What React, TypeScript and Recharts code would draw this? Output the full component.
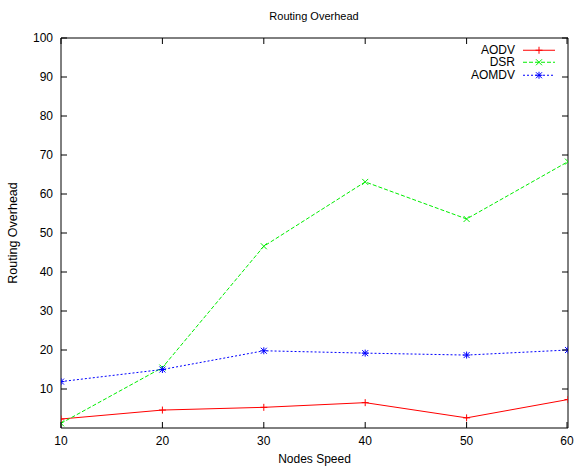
import { Line, LineChart, XAxis, YAxis } from 'recharts'

const speeds = [10, 20, 30, 40, 50, 60]
const aodv = [2.3, 4.6, 5.3, 6.5, 2.6, 7.3]
const dsr = [1.2, 15.5, 46.6, 63.1, 53.6, 68.3]
const aomdv = [11.9, 15.0, 19.8, 19.2, 18.7, 20.0]
const yTicks = [10, 20, 30, 40, 50, 60, 70, 80, 90, 100]

const data = speeds.map((s, i) => ({
  speed: s,
  AODV: aodv[i],
  DSR: dsr[i],
  AOMDV: aomdv[i],
}))

const font = '"Liberation Sans", Arial, sans-serif'

type Marker = 'plus' | 'cross' | 'star'

function markerPath(kind: Marker, cx: number, cy: number) {
  const r = 3.5
  const d = 3
  const plus = `M${cx - r},${cy}L${cx + r},${cy}M${cx},${cy - r}L${cx},${cy + r}`
  const cross = `M${cx - d},${cy - d}L${cx + d},${cy + d}M${cx - d},${cy + d}L${cx + d},${cy - d}`
  if (kind === 'plus') return plus
  if (kind === 'cross') return cross
  return plus + cross
}

const makeDot = (kind: Marker, color: string) => (props: any) => {
  const { cx, cy, index } = props
  if (cx == null || cy == null) return <g key={index} />
  return <path key={index} d={markerPath(kind, cx, cy)} stroke={color} strokeWidth={1} fill="none" />
}

const series = [
  { key: 'AODV', color: '#ff0000', dash: undefined, marker: 'plus' as Marker },
  { key: 'DSR', color: '#00ee00', dash: '4 2', marker: 'cross' as Marker },
  { key: 'AOMDV', color: '#0000ff', dash: '2 2', marker: 'star' as Marker },
]

const LeftTick = (props: any) => {
  const { x, y, payload } = props
  const ax = x + 8
  return (
    <g>
      <line x1={ax} x2={ax + 6} y1={y} y2={y} stroke="#000" />
      <text x={x} y={y} dy={4} textAnchor="end" fontSize={12} fontFamily={font} fill="#000">
        {payload.value}
      </text>
    </g>
  )
}

const RightTick = (props: any) => {
  const { x, y } = props
  return <line x1={x - 6} x2={x} y1={y} y2={y} stroke="#000" />
}

const BottomTick = (props: any) => {
  const { x, y, payload } = props
  const ay = y - 8
  return (
    <g>
      <line x1={x} x2={x} y1={ay} y2={ay - 6} stroke="#000" />
      <text x={x} y={y} dy={8.5} textAnchor="middle" fontSize={12} fontFamily={font} fill="#000">
        {payload.value}
      </text>
    </g>
  )
}

const TopTick = (props: any) => {
  const { x, y } = props
  return <line x1={x} x2={x} y1={y} y2={y + 6} stroke="#000" />
}

const LegendBox = () => (
  <div
    style={{
      position: 'absolute',
      left: 432,
      top: 43.5,
      fontFamily: font,
      fontSize: 12,
      color: '#000',
    }}
  >
    {series.map((s) => (
      <div key={s.key} style={{ display: 'flex', alignItems: 'center', height: 12.5 }}>
        <span style={{ width: 83, textAlign: 'right', lineHeight: '12.5px' }}>{s.key}</span>
        <svg width={40} height={12.5} style={{ marginLeft: 8 }}>
          <line x1={0} x2={32} y1={6.25} y2={6.25} stroke={s.color} strokeDasharray={s.dash} />
          <path d={markerPath(s.marker, 16, 6.25)} stroke={s.color} fill="none" />
        </svg>
      </div>
    ))}
  </div>
)

export default function App() {
  return (
    <div style={{ position: 'absolute', left: 0, top: 0, width: 575, height: 466, background: '#fff' }}>
      <div
        style={{
          position: 'absolute',
          left: 0,
          width: 628,
          top: 10,
          textAlign: 'center',
          fontFamily: font,
          fontSize: 11,
          color: '#000',
        }}
      >
        Routing Overhead
      </div>
      <LineChart
        width={575}
        height={466}
        data={data}
        margin={{ top: 38, right: 7, left: 0, bottom: 8 }}
        style={{ fontFamily: font }}
      >
        <XAxis
          xAxisId="b"
          dataKey="speed"
          type="number"
          domain={[10, 60]}
          ticks={speeds}
          allowDataOverflow
          height={30}
          tickSize={0}
          tickMargin={8}
          tick={<BottomTick />}
          axisLine={{ stroke: '#000' }}
          label={{
            value: 'Nodes Speed',
            position: 'bottom',
            offset: -4,
            style: { fontSize: 12, fill: '#000', fontFamily: font },
          }}
        />
        <XAxis
          xAxisId="t"
          orientation="top"
          mirror
          dataKey="speed"
          type="number"
          domain={[10, 60]}
          ticks={speeds}
          allowDataOverflow
          height={20}
          tickSize={0}
          tickMargin={0}
          tick={<TopTick />}
          axisLine={{ stroke: '#000' }}
        />
        <YAxis
          yAxisId="l"
          type="number"
          domain={[0, 100]}
          ticks={yTicks}
          allowDataOverflow
          width={61}
          tickSize={0}
          tickMargin={8}
          tick={<LeftTick />}
          axisLine={{ stroke: '#000' }}
          label={{
            value: 'Routing Overhead',
            angle: -90,
            position: 'insideLeft',
            offset: 13,
            style: { fontSize: 12.5, fill: '#000', fontFamily: font, textAnchor: 'middle' },
          }}
        />
        <YAxis
          yAxisId="r"
          orientation="right"
          mirror
          type="number"
          domain={[0, 100]}
          ticks={yTicks}
          allowDataOverflow
          width={20}
          tickSize={0}
          tickMargin={0}
          tick={<RightTick />}
          axisLine={{ stroke: '#000' }}
        />
        <Line
          xAxisId="t"
          yAxisId="r"
          dataKey="DSR"
          stroke="none"
          dot={false}
          activeDot={false}
          legendType="none"
          isAnimationActive={false}
        />
        {series.map((s) => (
          <Line
            key={s.key}
            xAxisId="b"
            yAxisId="l"
            type="linear"
            dataKey={s.key}
            stroke={s.color}
            strokeWidth={1}
            strokeDasharray={s.dash}
            dot={makeDot(s.marker, s.color)}
            activeDot={false}
            isAnimationActive={false}
          />
        ))}
      </LineChart>
      <LegendBox />
    </div>
  )
}
